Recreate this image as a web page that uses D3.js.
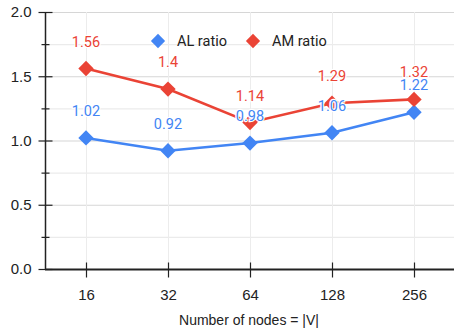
<!DOCTYPE html>
<html>
<head>
<meta charset="utf-8">
<script src="https://cdn.jsdelivr.net/npm/d3@7"></script>
<style>
  body { margin: 0; background: #fff; }
  svg { font-family: Roboto, Arial, sans-serif; }
</style>
</head>
<body>
<svg id="chart" width="454" height="333"></svg>
<script>
var nodes = ["16", "32", "64", "128", "256"];
var alRatio = [1.02, 0.92, 0.98, 1.06, 1.22];
var amRatio = [1.56, 1.4, 1.14, 1.29, 1.32];
var yTicks = [0, 0.5, 1.0, 1.5, 2.0];
var yMinor = [0.25, 0.75, 1.25, 1.75];

var blue = "#4285f4", red = "#ea4335";
var svg = d3.select("#chart");
var plotLeft = 45, plotRight = 454, plotTop = 12, plotBottom = 269;

var x = d3.scalePoint().domain(nodes).range([86, 414]);
var y = d3.scaleLinear().domain([0, 2]).range([plotBottom, plotTop]);

// grid
var allY = yTicks.concat(yMinor);
svg.append("g").selectAll("line").data(allY).enter().append("line")
    .attr("x1", plotLeft).attr("x2", plotRight)
    .attr("y1", function (d) { return y(d) + 0.5 }).attr("y2", function (d) { return y(d) + 0.5 })
    .attr("stroke", function (d) { return yTicks.indexOf(d) >= 0 ? "#d6d6d6" : "#ebebeb" })
    .attr("stroke-width", 1.2);
svg.append("g").selectAll("line").data(nodes).enter().append("line")
    .attr("x1", function (d) { return x(d) + 0.5 }).attr("x2", function (d) { return x(d) + 0.5 })
    .attr("y1", plotTop).attr("y2", plotBottom)
    .attr("stroke", "#ececec").attr("stroke-width", 1);

// y axis
var yAxis = d3.axisLeft(y).tickValues(yTicks).tickFormat(d3.format(".1f")).tickSize(7).tickPadding(7);
var gy = svg.append("g").attr("transform", "translate(" + (plotLeft + 0.5) + ",0)").call(yAxis);
gy.select(".domain").remove();
gy.append("line").attr("x1", 0).attr("x2", 0).attr("y1", plotTop).attr("y2", plotBottom).attr("stroke", "#222").attr("stroke-width", 1.5);
gy.selectAll(".tick line").attr("x1", -7).attr("x2", 7).attr("stroke", "#222").attr("stroke-width", 1.2);
gy.selectAll(".tick text").attr("font-size", 15).attr("fill", "#222").attr("font-family", "Arial, sans-serif");
gy.append("g").selectAll("line").data(yMinor).enter().append("line")
    .attr("x1", -4).attr("x2", 4)
    .attr("y1", function (d) { return y(d) + 0.5 }).attr("y2", function (d) { return y(d) + 0.5 })
    .attr("stroke", "#222").attr("stroke-width", 1.2);

// x axis
var xAxis = d3.axisBottom(x).tickSize(8).tickPadding(12);
var gx = svg.append("g").attr("transform", "translate(0," + (plotBottom + 0.5) + ")").call(xAxis);
gx.select(".domain").remove();
gx.append("line").attr("x1", plotLeft).attr("x2", plotRight).attr("stroke", "#222").attr("stroke-width", 2);
gx.selectAll(".tick line").attr("y1", -7).attr("y2", 8).attr("stroke", "#222").attr("stroke-width", 1.2);
gx.selectAll(".tick text").attr("font-size", 15).attr("fill", "#222").attr("font-family", "Arial, sans-serif");

svg.append("text").attr("x", 249).attr("y", 325).attr("text-anchor", "middle")
    .attr("font-size", 14).attr("fill", "#222").attr("font-family", "Arial, sans-serif")
    .text("Number of nodes = |V|");

var diamond = d3.symbol().type(d3.symbolDiamond2).size(150);

function drawSeries(vals, color) {
    var line = d3.line().x(function (d, i) { return x(nodes[i]) }).y(function (d) { return y(d) });
    svg.append("path").datum(vals).attr("d", line)
        .attr("fill", "none").attr("stroke", color).attr("stroke-width", 2.6);
    svg.append("g").selectAll("path").data(vals).enter().append("path")
        .attr("d", diamond)
        .attr("transform", function (d, i) { return "translate(" + x(nodes[i]) + "," + y(d) + ")" })
        .attr("fill", color);
}
function drawLabels(vals, color) {
    svg.append("g").selectAll("text").data(vals).enter().append("text")
        .attr("x", function (d, i) { return x(nodes[i]) })
        .attr("y", function (d) { return y(d) - 22 })
        .attr("text-anchor", "middle")
        .attr("font-size", 14.5)
        .attr("fill", color)
        .attr("stroke", "#fff").attr("stroke-width", 2.5).attr("paint-order", "stroke")
        .text(function (d) { return d });
}
drawSeries(alRatio, blue);
drawSeries(amRatio, red);
drawLabels(amRatio, red);
drawLabels(alRatio, blue);

// legend
var legend = [{ name: "AL ratio", color: blue, x: 158 }, { name: "AM ratio", color: red, x: 253 }];
var lg = svg.append("g").selectAll("g").data(legend).enter().append("g")
    .attr("transform", function (d) { return "translate(" + d.x + ",41)" });
lg.append("path").attr("d", d3.symbol().type(d3.symbolDiamond2).size(130)).attr("fill", function (d) { return d.color });
lg.append("text").attr("x", 19).attr("y", 5).attr("font-size", 14.5).attr("fill", "#222").text(function (d) { return d.name });
</script>
</body>
</html>
